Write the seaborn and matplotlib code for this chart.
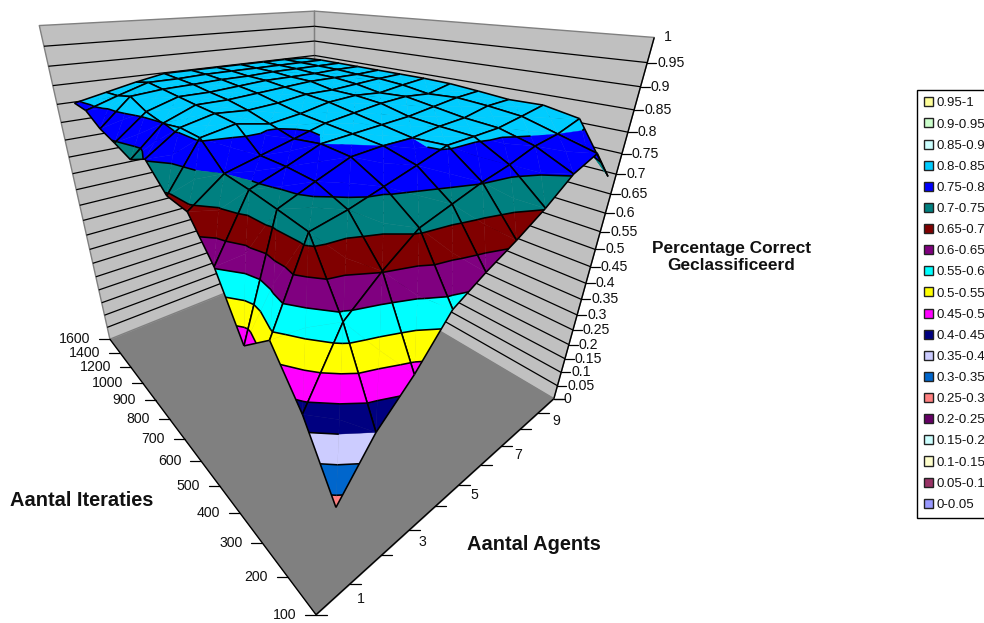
import numpy as np
import matplotlib
matplotlib.use("Agg")
import matplotlib.pyplot as plt
from matplotlib.lines import Line2D
from matplotlib.patches import Patch
from mpl_toolkits.mplot3d import proj3d
from mpl_toolkits.mplot3d.art3d import Poly3DCollection, Line3DCollection
import seaborn as sns

sns.set_theme(style="white")
plt.rcParams["font.family"] = ["Liberation Sans", "DejaVu Sans"]

# Share classified correctly, one list per agent count, ordered by iteration label.
iteration_labels = ["100", "200", "300", "400", "500", "600", "700", "800", "900",
                    "1000", "1200", "1400", "1600"]
agent_labels = ["1", "", "3", "", "5", "", "7", "", "9", ""]
agents_1 = [.280, .429, .535, .465, .603, .690, .695, .753, .728, .747, .763, .793, .797]
agents_2 = [.400, .585, .722, .733, .743, .750, .805, .808, .799, .810, .833, .820, .815]
agents_3 = [.480, .652, .738, .765, .770, .770, .820, .826, .830, .835, .840, .845, .833]
agents_4 = [.580, .708, .760, .795, .800, .790, .805, .820, .830, .835, .842, .845, .848]
agents_5 = [.623, .730, .782, .800, .805, .810, .815, .825, .835, .840, .845, .848, .848]
agents_6 = [.660, .752, .805, .800, .810, .820, .830, .835, .840, .845, .845, .848, .848]
agents_7 = [.702, .768, .807, .810, .815, .830, .835, .835, .845, .845, .848, .848, .848]
agents_8 = [.753, .790, .810, .815, .825, .835, .830, .840, .845, .845, .848, .848, .848]
agents_9 = [.778, .800, .822, .830, .835, .830, .840, .845, .845, .848, .848, .848, .848]
agents_10 = [.705, .820, .835, .833, .840, .846, .848, .848, .848, .848, .848, .848, .845]

z_ticks = [round(0.05 * k, 2) for k in range(21)]
z_tick_labels = [f"{v:g}" for v in z_ticks]
band_labels = [f"{lo:g}-{hi:g}" for lo, hi in zip(z_ticks[:-1], z_ticks[1:])]
band_colors = ["#9999FF", "#993366", "#FFFFCC", "#CCFFFF", "#660066", "#FF8080", "#0066CC",
               "#CCCCFF", "#000080", "#FF00FF", "#FFFF00", "#00FFFF", "#800080", "#800000",
               "#008080", "#0000FF", "#00CCFF", "#CCFFFF", "#CCFFCC", "#FFFF99"]
palette = sns.color_palette(band_colors)

Z = np.array([agents_1, agents_2, agents_3, agents_4, agents_5,
              agents_6, agents_7, agents_8, agents_9, agents_10])
n_a, n_i = Z.shape
A = np.arange(1, n_a + 1, dtype=float)
I = np.arange(n_i, dtype=float)
x_lo, x_hi = 0.5, n_a + 0.5
y_lo, y_hi = 0.0, n_i - 1.0

W_PX, H_PX = 984, 623
fig = plt.figure(figsize=(W_PX / 100, H_PX / 100), dpi=100, facecolor="white")
ax = fig.add_axes([0, 0, 1000 / W_PX, 1000 / H_PX], projection="3d")
ax.set_axis_off()
ax.computed_zorder = False

# Camera: strong perspective, looking down at the corner of 1 agent / 100 iterations.
ELEV, AZIM = 27.0, -129.5
FOCAL_PX = 518.0
CENTER_PX = (316.0, 238.0)
FLOOR_X, FLOOR_Y, WALL_Z = 0.815, 0.996, 0.895   # box size with the camera height as unit
FRONT_DIST = 0.509                               # camera foot to the near floor corner
VIEW_DEPTH = 1.5
el, az = np.radians(ELEV), np.radians(AZIM)
look = np.array([-np.cos(el) * np.cos(az), -np.cos(el) * np.sin(az), -np.sin(el)])
eye = np.array([FRONT_DIST * np.cos(az), FRONT_DIST * np.sin(az), 1.0])
target = eye + VIEW_DEPTH * look
ax.set_xlim3d(x_lo + (target[0] - 1) / FLOOR_X * (x_hi - x_lo),
              x_lo + (target[0] + 1) / FLOOR_X * (x_hi - x_lo), view_margin=0)
ax.set_ylim3d((target[1] - 1) / FLOOR_Y * y_hi, (target[1] + 1) / FLOOR_Y * y_hi, view_margin=0)
ax.set_zlim3d((target[2] - 1) / WALL_Z, (target[2] + 1) / WALL_Z, view_margin=0)
ax.set_box_aspect((1, 1, 1))
ax.view_init(elev=ELEV, azim=AZIM, roll=0)
focal = VIEW_DEPTH * (ax._box_aspect[0] / 2) / 10
ax.set_proj_type("persp", focal_length=focal)

# Place the square axes so the view centre and scale land where the camera needs them.
ax.apply_aspect()
p0 = ax.transData.transform((0.0, 0.0))
p1 = ax.transData.transform((0.01, 0.01))
rate = (p1[0] - p0[0]) / 0.01 / 1000.0
side = (FOCAL_PX / focal) / rate
left = CENTER_PX[0] - p0[0] / 1000.0 * side
bottom = (H_PX - CENTER_PX[1]) - p0[1] / 1000.0 * side
ax.set_position([left / W_PX, bottom / H_PX, side / W_PX, side / H_PX])
ax.apply_aspect()

WALL, FLOOR, EDGE = "#C0C0C0", "#808080", "#808080"

# Back walls and floor.
wall_y = [(x_lo, y_hi, 0), (x_hi, y_hi, 0), (x_hi, y_hi, 1), (x_lo, y_hi, 1)]
wall_x = [(x_hi, y_lo, 0), (x_hi, y_hi, 0), (x_hi, y_hi, 1), (x_hi, y_lo, 1)]
ax.add_collection3d(Poly3DCollection([wall_y, wall_x], facecolors=WALL, edgecolors=EDGE,
                                     linewidths=1.0, zorder=1), autolim=False)
grid = []
for v in z_ticks[1:-1]:
    grid.append([(x_lo, y_hi, v), (x_hi, y_hi, v)])
    grid.append([(x_hi, y_hi, v), (x_hi, y_lo, v)])
ax.add_collection3d(Line3DCollection(grid, colors="black", linewidths=0.9, zorder=2), autolim=False)
floor = [(x_lo, y_lo, 0), (x_hi, y_lo, 0), (x_hi, y_hi, 0), (x_lo, y_hi, 0)]
ax.add_collection3d(Poly3DCollection([floor], facecolors=FLOOR, edgecolors=FLOOR,
                                     linewidths=0.5, zorder=3), autolim=False)
ax.add_collection3d(Line3DCollection(
    [[(x_lo, y_lo, 0), (x_hi, y_lo, 0)], [(x_lo, y_lo, 0), (x_lo, y_hi, 0)],
     [(x_hi, y_lo, 0), (x_hi, y_lo, 1)]],
    colors="black", linewidths=1.0, zorder=4), autolim=False)


def clip_band(poly, lo, hi):
    """Cut a polygon given as (x, y, z) points to the height range lo..hi."""
    for level, keep_above in ((lo, True), (hi, False)):
        out = []
        for k in range(len(poly)):
            p, q = poly[k], poly[(k + 1) % len(poly)]
            dp = p[2] - level if keep_above else level - p[2]
            dq = q[2] - level if keep_above else level - q[2]
            if dp >= 0:
                out.append(p)
            if dp * dq < 0:
                out.append(p + (q - p) * dp / (dp - dq))
        poly = out
        if len(poly) < 3:
            return []
    return poly


def contour_segments(tri, level):
    pts = []
    for k in range(3):
        p, q = tri[k], tri[(k + 1) % 3]
        if (p[2] - level) * (q[2] - level) < 0:
            pts.append(p + (q - p) * (level - p[2]) / (q[2] - p[2]))
    return [pts] if len(pts) == 2 else []


# The camera sits beyond the low corner, so cells paint from the far corner towards it.
order = 10
for i in range(n_i - 2, -1, -1):
    for a in range(n_a - 2, -1, -1):
        corners = [np.array([A[a + da], I[i + di], Z[a + da, i + di]])
                   for da, di in ((0, 0), (1, 0), (1, 1), (0, 1))]
        mid = sum(corners) / 4
        tris = [[corners[k], corners[(k + 1) % 4], mid] for k in range(4)]
        polys, colors, segs = [], [], []
        for tri in tris:
            for b in range(len(band_colors)):
                piece = clip_band(tri, z_ticks[b], z_ticks[b + 1])
                if piece:
                    polys.append(piece)
                    colors.append(palette[b])
            for level in z_ticks[1:-1]:
                segs += contour_segments(tri, level)
        for k in range(4):
            segs.append([corners[k], corners[(k + 1) % 4]])
        ax.add_collection3d(Poly3DCollection(polys, facecolors=colors, edgecolors=colors,
                                             linewidths=0.25, zorder=order), autolim=False)
        ax.add_collection3d(Line3DCollection(segs, colors="black", linewidths=1.15,
                                             zorder=order + 1), autolim=False)
        order += 2


def to_pixels(x, y, z):
    u, v, _ = proj3d.proj_transform(x, y, z, ax.get_proj())
    return ax.transData.transform((u, v))


def tick(px, dx):
    fig.add_artist(Line2D([px[0], px[0] + dx], [px[1], px[1]], color="black", lw=0.9,
                          transform=None))


def pixel_text(px, dx, label, **kw):
    fig.text((px[0] + dx) / W_PX, px[1] / H_PX, label, va="center", color="#111111",
             fontsize=10.2, **kw)


# Axis ticks and their labels.
for k, label in enumerate(iteration_labels):
    px = to_pixels(x_lo, I[k], 0)
    tick(px, -11)
    pixel_text(px, -20, label, ha="right")
for k in range(n_a + 1):
    tick(to_pixels(x_lo + k, y_lo, 0), 11)
for k, label in enumerate(agent_labels):
    if label:
        pixel_text(to_pixels(A[k], y_lo, 0), 27, label, ha="center")
for v, label in zip(z_ticks, z_tick_labels):
    px = to_pixels(x_hi, y_lo, v)
    if v < 1:
        tick(px, 9)
    pixel_text(px, 10, label, ha="left")

# Axis titles.
title_style = dict(fontsize=14.4, fontweight="bold", ha="center", va="center", color="#111111")
fig.text(82 / W_PX, 1 - 501 / H_PX, "Aantal Iteraties", **title_style)
fig.text(534 / W_PX, 1 - 544 / H_PX, "Aantal Agents", **title_style)
fig.text(731 / W_PX, 1 - 257 / H_PX, "Percentage Correct\nGeclassificeerd",
         linespacing=1.15, **{**title_style, "fontsize": 12.4})

# Legend, highest band first; the frame runs off the right edge of the figure.
handles = [Patch(facecolor=c, edgecolor="#222222", linewidth=1.0, label=lab)
           for c, lab in zip(reversed(palette), reversed(band_labels))]
fig.legend(handles=handles, loc="upper left", bbox_to_anchor=(917 / W_PX, 1 - 90 / H_PX),
           fontsize=9.5, frameon=True, fancybox=False, edgecolor="black", framealpha=1,
           handlelength=0.68, handleheight=0.68, handletextpad=0.28, labelspacing=0.68,
           borderpad=0.55, borderaxespad=0, labelcolor="#111111")

fig.savefig("out.png", dpi=100, facecolor="white")
